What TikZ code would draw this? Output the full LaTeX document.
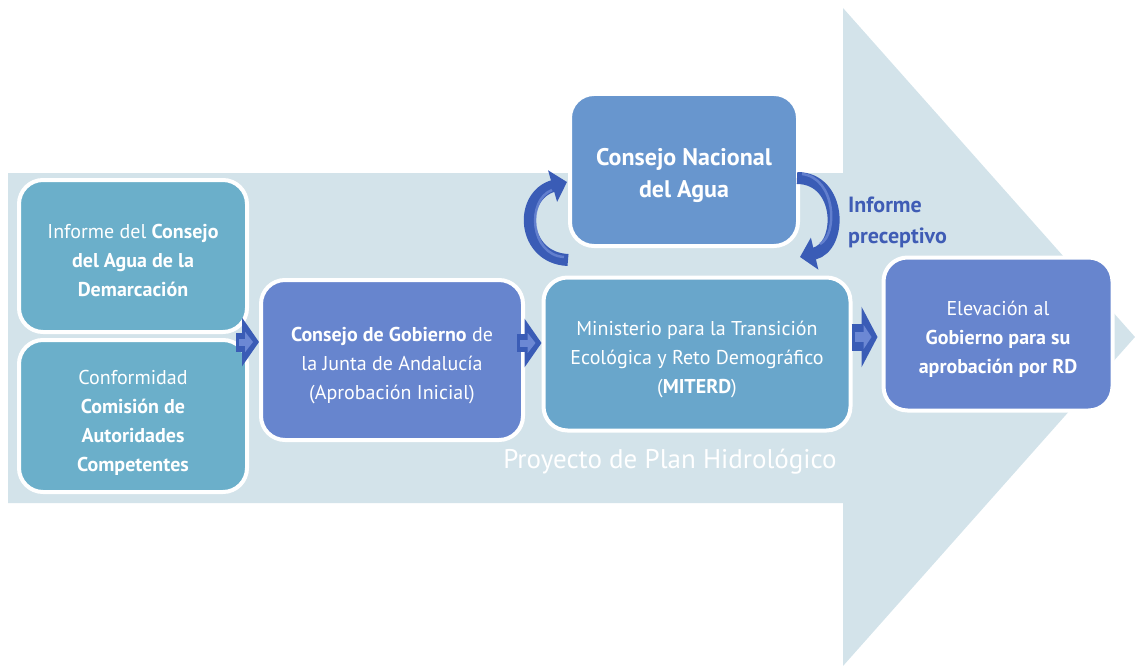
\documentclass[tikz,border=0pt]{standalone}
\usepackage{fontspec}
\setmainfont{PT Sans}
\usetikzlibrary{arrows.meta,calc}
\definecolor{bgarrow}{HTML}{D3E3EA}
\definecolor{teal}{HTML}{6BAFCA}
\definecolor{blueC}{HTML}{6785CE}
\definecolor{blueD}{HTML}{69A6CB}
\definecolor{blueE}{HTML}{6896CE}
\definecolor{darkarrow}{HTML}{3A5CB6}
\definecolor{lightarrow}{HTML}{6C88D4}
\definecolor{labelblue}{HTML}{3F5CB5}
\newcommand{\dropline}[1]{\rule{0pt}{#1}}
\begin{document}
\begin{tikzpicture}[x=1pt,y=-1pt,
  box/.style={draw=white,line width=4pt,rounded corners=24pt,inner sep=0pt,
    text=white,align=center,font=\fontsize{20}{29}\selectfont},
  blk/.style={draw=darkarrow,line width=#1,-{Triangle[length=17pt,width=48pt]}},
  blkin/.style={draw=lightarrow,line width=#1,-{Triangle[length=8pt,width=20pt]}},
  curv/.style={draw=darkarrow,line width=12pt,-{Triangle[length=15pt,width=32pt]}},
  curvin/.style={draw=lightarrow,line width=2.5pt,opacity=0.8}]
\useasboundingbox (0,0) rectangle (1135,666);
% background arrow
\fill[bgarrow] (8,173) -- (843,173) -- (843,8) -- (1135,337) -- (843,666) -- (843,503) -- (8,503) -- cycle;
% boxes
\node[box,fill=teal,minimum width=228pt,minimum height=152pt] (A) at (133,256)
  {\dropline{23pt}Informe del \textbf{Consejo}\\ \textbf{del Agua de la}\\ \textbf{Demarcación}};
\node[box,fill=teal,minimum width=228pt,minimum height=152pt] (B) at (133,416)
  {\dropline{27pt}Conformidad\\ \textbf{Comisión de}\\ \textbf{Autoridades}\\ \textbf{Competentes}};
\node[box,fill=blueC,minimum width=262pt,minimum height=160pt] (C) at (392,360)
  {\dropline{26pt}\textbf{Consejo de Gobierno} de\\ la Junta de Andalucía\\ (Aprobación Inicial)};
\node[box,fill=blueD,minimum width=307pt,minimum height=153pt] (D) at (697,354)
  {\dropline{25pt}Ministerio para la Transición\\ Ecológica y Reto Demográfico\\ (\textbf{MITERD})};
\node[box,fill=blueE,minimum width=228pt,minimum height=152pt,
  font=\fontsize{24}{32}\selectfont] (E) at (684,170)
  {\dropline{28pt}\textbf{Consejo Nacional}\\ \textbf{del Agua}};
\node[box,fill=blueC,minimum width=229pt,minimum height=153pt] (F) at (998,334)
  {\dropline{25pt}Elevación al\\ \textbf{Gobierno para su}\\ \textbf{aprobación por RD}};
% labels
\node[anchor=base,text=white,inner sep=0pt,font=\fontsize{27}{32}\selectfont] (P) at (670,468)
  {Proyecto de Plan Hidrológico};
\node[anchor=base west,text=labelblue,inner sep=0pt,align=left,
  font=\fontsize{22}{31}\selectfont\bfseries] (L) at (848,243)
  {Informe\\ preceptivo};
% block arrows
\draw[blk=19pt] ($(A.east |- 0,342)+(-13,0)$) -- (C.west |- 0,342);
\draw[blkin=7pt] ($(A.east |- 0,342)+(-10,0)$) -- ($(C.west |- 0,342)+(-6,0)$);
\draw[blk=18pt] ($(C.east |- 0,343)+(-8,0)$) -- (D.west |- 0,343);
\draw[blkin=7pt] ($(C.east |- 0,343)+(-5,0)$) -- ($(D.west |- 0,343)+(-6,0)$);
\draw[blk=27pt,-{Triangle[length=16pt,width=60pt]}] ($(D.east |- 0,337)+(-1,0)$) -- ($(F.west |- 0,337)+(-4,0)$);
\draw[blkin=10pt,-{Triangle[length=8pt,width=24pt]}] ($(D.east |- 0,337)+(2,0)$) -- ($(F.west |- 0,337)+(-10,0)$);
% curved arrows
\draw[curv] ($(E.south west)+(0,12)$) .. controls (522,258) and (518,196) .. ($(E.west)+(-1,12)$);
\draw[curvin] ($(E.south west)+(-4,9)$) .. controls (530,255) and (526,200) .. (552,190);
\draw[curv] ($(E.east)+(-3,8)$) .. controls (842,178) and (843,247) .. ($(E.south east)+(0,9)$);
\draw[curvin] ($(E.east)+(2,4)$) .. controls (836,178) and (838,235) .. (820,244);
\end{tikzpicture}
\end{document}
